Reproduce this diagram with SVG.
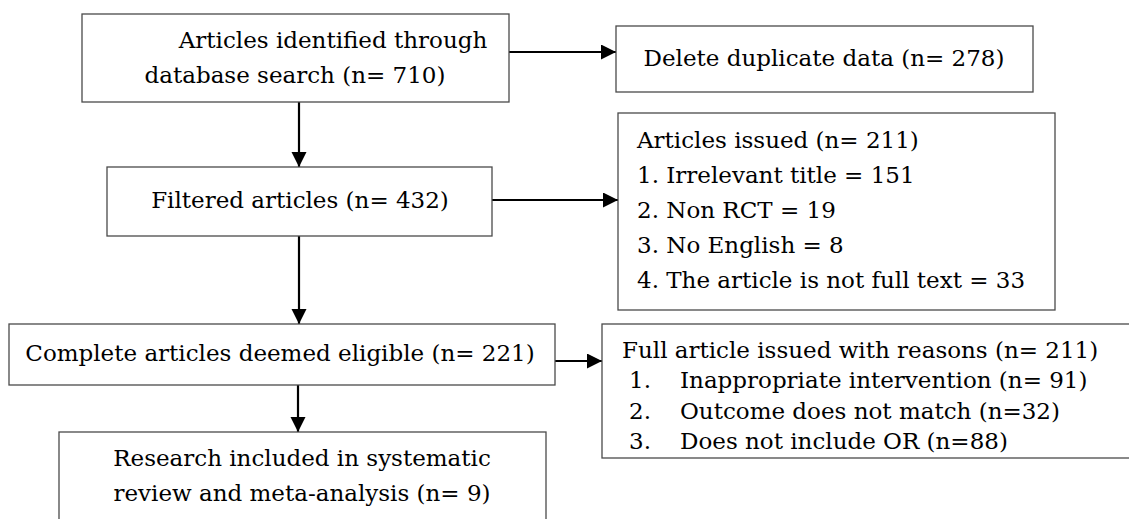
<svg xmlns="http://www.w3.org/2000/svg" width="1129" height="519" viewBox="0 0 1129 519">
<style>
.box{fill:#fff;stroke:#4a4a4a;stroke-width:1.3}
.t{font-family:"DejaVu Serif","Liberation Serif",serif;font-size:23px;fill:#000}
.m{text-anchor:middle}
.c{stroke:#000;stroke-width:2.2;fill:none}
</style>
<defs>
<marker id="ah" markerUnits="userSpaceOnUse" markerWidth="16" markerHeight="16" refX="15" refY="7.5" orient="auto">
<path d="M0,0 L15,7.5 L0,15 z" fill="#000"/>
</marker>
</defs>
<rect width="1129" height="519" fill="#fff"/>
<g id="connectors">
<line class="c" x1="509" y1="52" x2="616" y2="52" marker-end="url(#ah)"/>
<line class="c" x1="299" y1="102" x2="299" y2="167" marker-end="url(#ah)"/>
<line class="c" x1="492" y1="200" x2="618" y2="200" marker-end="url(#ah)"/>
<line class="c" x1="299" y1="236" x2="299" y2="324" marker-end="url(#ah)"/>
<line class="c" x1="555" y1="361" x2="602" y2="361" marker-end="url(#ah)"/>
<line class="c" x1="298" y1="385" x2="298" y2="432" marker-end="url(#ah)"/>
</g>
<g id="identified">
<rect class="box" x="82" y="14" width="427" height="88"/>
<text class="t m" x="333" y="48">Articles identified through</text>
<text class="t m" x="295" y="83">database search (n= 710)</text>
</g>
<g id="duplicates">
<rect class="box" x="616" y="26" width="417" height="66"/>
<text class="t m" x="824" y="66">Delete duplicate data (n= 278)</text>
</g>
<g id="filtered">
<rect class="box" x="107" y="167" width="385" height="69"/>
<text class="t m" x="300" y="208">Filtered articles (n= 432)</text>
</g>
<g id="issued">
<rect class="box" x="618" y="113" width="437" height="197"/>
<text class="t" x="637" y="148">Articles issued (n= 211)</text>
<text class="t" x="637" y="183">1. Irrelevant title = 151</text>
<text class="t" x="637" y="218">2. Non RCT = 19</text>
<text class="t" x="637" y="253">3. No English = 8</text>
<text class="t" x="637" y="288">4. The article is not full text = 33</text>
</g>
<g id="eligible">
<rect class="box" x="9" y="324" width="546" height="61"/>
<text class="t m" x="280" y="361">Complete articles deemed eligible (n= 221)</text>
</g>
<g id="fullissued">
<rect class="box" x="602" y="324" width="540" height="134"/>
<text class="t" x="622" y="358">Full article issued with reasons (n= 211)</text>
<text class="t" x="629" y="388">1.</text>
<text class="t" x="680" y="388">Inappropriate intervention (n= 91)</text>
<text class="t" x="629" y="419">2.</text>
<text class="t" x="680" y="419">Outcome does not match (n=32)</text>
<text class="t" x="629" y="449">3.</text>
<text class="t" x="680" y="449">Does not include OR (n=88)</text>
</g>
<g id="included">
<rect class="box" x="59" y="432" width="487" height="100"/>
<text class="t m" x="302" y="466">Research included in systematic</text>
<text class="t m" x="302" y="501">review and meta-analysis (n= 9)</text>
</g>
</svg>
